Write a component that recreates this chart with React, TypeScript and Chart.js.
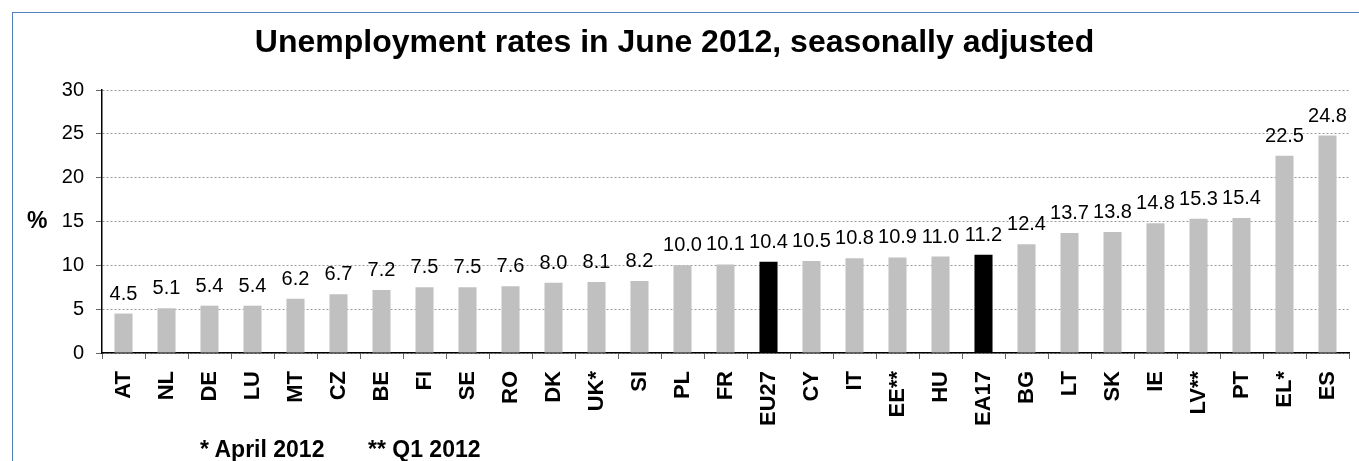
import React, { useEffect, useRef } from "react";
import { Chart, registerables } from "chart.js";

Chart.register(...registerables);

const categories = [
  "AT", "NL", "DE", "LU", "MT", "CZ", "BE", "FI", "SE", "RO", "DK", "UK*", "SI", "PL", "FR",
  "EU27", "CY", "IT", "EE**", "HU", "EA17", "BG", "LT", "SK", "IE", "LV**", "PT", "EL*", "ES",
];
const rates = [
  4.5, 5.1, 5.4, 5.4, 6.2, 6.7, 7.2, 7.5, 7.5, 7.6, 8.0, 8.1, 8.2, 10.0, 10.1,
  10.4, 10.5, 10.8, 10.9, 11.0, 11.2, 12.4, 13.7, 13.8, 14.8, 15.3, 15.4, 22.5, 24.8,
];
const aggregates = ["EU27", "EA17"];
const titleText = "Unemployment rates in June 2012, seasonally adjusted";
const footnotes = ["* April 2012", "** Q1 2012"];

const FONT = "'Liberation Sans', Arial, Helvetica, sans-serif";

const valueLabels = {
  id: "valueLabels",
  afterDatasetsDraw(chart: any) {
    const ctx = chart.ctx;
    const meta = chart.getDatasetMeta(0);
    ctx.save();
    ctx.font = `20px ${FONT}`;
    ctx.fillStyle = "#000";
    ctx.textAlign = "center";
    ctx.textBaseline = "alphabetic";
    meta.data.forEach((bar: any, i: number) => {
      ctx.fillText(rates[i].toFixed(1), bar.x, bar.y - 14);
    });
    ctx.restore();
  },
};

export default function App() {
  const ref = useRef<HTMLCanvasElement>(null);
  useEffect(() => {
    if (!ref.current) return;
    const chart = new Chart(ref.current, {
      type: "bar",
      data: {
        labels: categories,
        datasets: [
          {
            data: rates,
            backgroundColor: categories.map((c) => (aggregates.includes(c) ? "#000000" : "#C0C0C0")),
            barPercentage: 0.42,
            categoryPercentage: 1,
          },
        ],
      },
      options: {
        animation: false,
        responsive: false,
        layout: { padding: { left: 0, right: 10, top: 0, bottom: 0 } },
        plugins: {
          legend: { display: false },
          tooltip: { enabled: false },
          title: {
            display: true,
            text: titleText,
            color: "#000",
            font: { family: FONT, size: 32, weight: "bold" },
            padding: { top: 23.8, bottom: 27.8 },
          },
        },
        scales: {
          x: {
            afterFit(scale: any) {
              scale.height = 108;
              scale.paddingLeft = 0;
              scale.paddingRight = 0;
            },
            grid: {
              drawOnChartArea: false,
              drawTicks: true,
              tickLength: 6,
              tickColor: "#666",
              tickWidth: 1,
              offset: true,
            },
            border: { display: true, color: "#000", width: 1.5 },
            ticks: {
              color: "#000",
              font: { family: FONT, size: 22, weight: "bold" },
              minRotation: 90,
              maxRotation: 90,
              autoSkip: false,
              padding: 12,
            },
          },
          y: {
            min: 0,
            max: 30,
            afterFit(scale: any) {
              scale.width = 102;
            },
            grid: {
              color: "#9a9a9a",
              lineWidth: 1,
              tickLength: 6,
              tickColor: "#666",
              tickWidth: 1,
              tickBorderDash: [],
            },
            border: { display: true, color: "#000", width: 1.5, dash: [2, 2] },
            ticks: {
              stepSize: 5,
              color: "#000",
              font: { family: FONT, size: 20 },
              padding: 12,
            },
          },
        },
      },
      plugins: [valueLabels],
    });
    return () => chart.destroy();
  }, []);

  return (
    <div
      style={{
        position: "fixed",
        left: 0,
        top: 0,
        width: 1359,
        height: 461,
        background: "#fff",
        overflow: "hidden",
        fontFamily: FONT,
      }}
    >
      <canvas ref={ref} width={1359} height={461} style={{ position: "absolute", left: 0, top: 0, width: 1359, height: 461 }} />
      <div
        style={{
          position: "absolute",
          left: 12,
          top: 12,
          width: 1420,
          height: 520,
          border: "1.5px solid #4F81BD",
          pointerEvents: "none",
        }}
      />
      <div style={{ position: "absolute", left: 27, top: 207, fontSize: 23, fontWeight: "bold", lineHeight: "26px" }}>%</div>
      <div style={{ position: "absolute", left: 200, top: 436, fontSize: 23, fontWeight: "bold", lineHeight: "26px", whiteSpace: "nowrap" }}>
        {footnotes[0]}
      </div>
      <div style={{ position: "absolute", left: 368, top: 436, fontSize: 23, fontWeight: "bold", lineHeight: "26px", whiteSpace: "nowrap" }}>
        {footnotes[1]}
      </div>
    </div>
  );
}
